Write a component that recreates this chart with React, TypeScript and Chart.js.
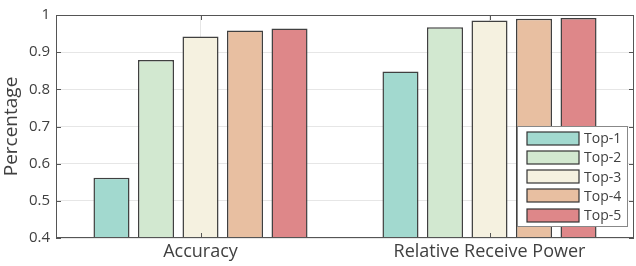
import React, { useEffect, useRef } from "react";
import { Chart, registerables } from "chart.js";

Chart.register(...registerables);

const categories = ["Accuracy", "Relative Receive Power"];
const seriesNames = ["Top-1", "Top-2", "Top-3", "Top-4", "Top-5"];
const top1 = [0.562, 0.848];
const top2 = [0.879, 0.967];
const top3 = [0.942, 0.985];
const top4 = [0.958, 0.99];
const top5 = [0.964, 0.992];
const yTicks = [0.4, 0.5, 0.6, 0.7, 0.8, 0.9, 1];
const colors = ["#a2d9cf", "#d2e8d0", "#f5f1e0", "#e8bfa1", "#de8789"];

const TEXT = "#404040";
const FONT = "'Open Sans', 'DejaVu Sans', sans-serif";

const framePlugin = {
  id: "frame",
  afterDraw(chart: any) {
    const { ctx, chartArea: a, scales } = chart;
    ctx.save();
    ctx.strokeStyle = "#555555";
    ctx.lineWidth = 1;
    ctx.strokeRect(a.left + 0.5, a.top + 0.5, a.right - a.left - 1, a.bottom - a.top - 1);
    const y = scales.y;
    ctx.beginPath();
    for (const v of yTicks) {
      const py = Math.round(y.getPixelForValue(v)) + 0.5;
      ctx.moveTo(a.left, py);
      ctx.lineTo(a.left + 5, py);
      ctx.moveTo(a.right, py);
      ctx.lineTo(a.right - 5, py);
    }
    const x = scales.x;
    categories.forEach((_, i) => {
      const px = Math.round(x.getPixelForValue(i)) + 0.5;
      ctx.moveTo(px, a.top);
      ctx.lineTo(px, a.top + 5);
      ctx.moveTo(px, a.bottom);
      ctx.lineTo(px, a.bottom - 5);
    });
    ctx.stroke();

    const lx = 517, ly = 126, lw = 110, lh = 100;
    ctx.fillStyle = "#ffffff";
    ctx.fillRect(lx, ly, lw, lh);
    ctx.strokeStyle = "#888888";
    ctx.strokeRect(lx + 0.5, ly + 0.5, lw, lh);
    ctx.font = `14px ${FONT}`;
    ctx.textBaseline = "middle";
    ctx.textAlign = "left";
    chart.data.datasets.forEach((ds: any, i: number) => {
      const cy = 138 + i * 19.3;
      ctx.fillStyle = ds.backgroundColor;
      ctx.fillRect(527, Math.round(cy - 6.5), 52, 13);
      ctx.strokeStyle = "#333333";
      ctx.lineWidth = 1.2;
      ctx.strokeRect(527, Math.round(cy - 6.5), 52, 13);
      ctx.fillStyle = TEXT;
      ctx.fillText(ds.label, 584, cy + 1);
    });
    ctx.restore();
  },
};

export default function App() {
  const ref = useRef<HTMLCanvasElement>(null);
  useEffect(() => {
    document.body.style.margin = "0";
    const values = [top1, top2, top3, top4, top5];
    const chart = new Chart(ref.current!, {
      type: "bar",
      data: {
        labels: categories,
        datasets: seriesNames.map((n, i) => ({
          label: n,
          data: values[i],
          backgroundColor: colors[i],
          borderColor: "#404040",
          borderWidth: 1.5,
          borderSkipped: false,
          categoryPercentage: 0.77,
          barPercentage: 0.81,
        })),
      },
      options: {
        animation: false,
        responsive: false,
        maintainAspectRatio: false,
        layout: { padding: { top: 5, right: 2, left: 0, bottom: 0 } },
        plugins: { legend: { display: false }, tooltip: { enabled: false } },
        scales: {
          x: {
            grid: { offset: false, color: "#e6e6e6", drawTicks: false, lineWidth: 1 },
            border: { display: false },
            ticks: { color: TEXT, font: { family: FONT, size: 18 }, padding: 3 },
            afterFit: (s: any) => { s.height = 28; },
          },
          y: {
            min: 0.4,
            max: 1,
            grid: { color: "#e6e6e6", drawTicks: false, lineWidth: 1 },
            border: { display: false },
            afterBuildTicks: (s: any) => { s.ticks = yTicks.map((v) => ({ value: v })); },
            ticks: {
              color: TEXT,
              font: { family: FONT, size: 15 },
              padding: 6,
              callback: (v: any) => (v === 1 ? "1" : Number(v).toFixed(1)),
            },
            title: {
              display: true,
              text: "Percentage",
              color: TEXT,
              font: { family: FONT, size: 19 },
              padding: 0,
            },
            afterFit: (s: any) => { s.width = 56; },
          },
        },
      },
      plugins: [framePlugin],
    });
    return () => chart.destroy();
  }, []);
  return <canvas ref={ref} width={636} height={266} style={{ display: "block" }} />;
}
